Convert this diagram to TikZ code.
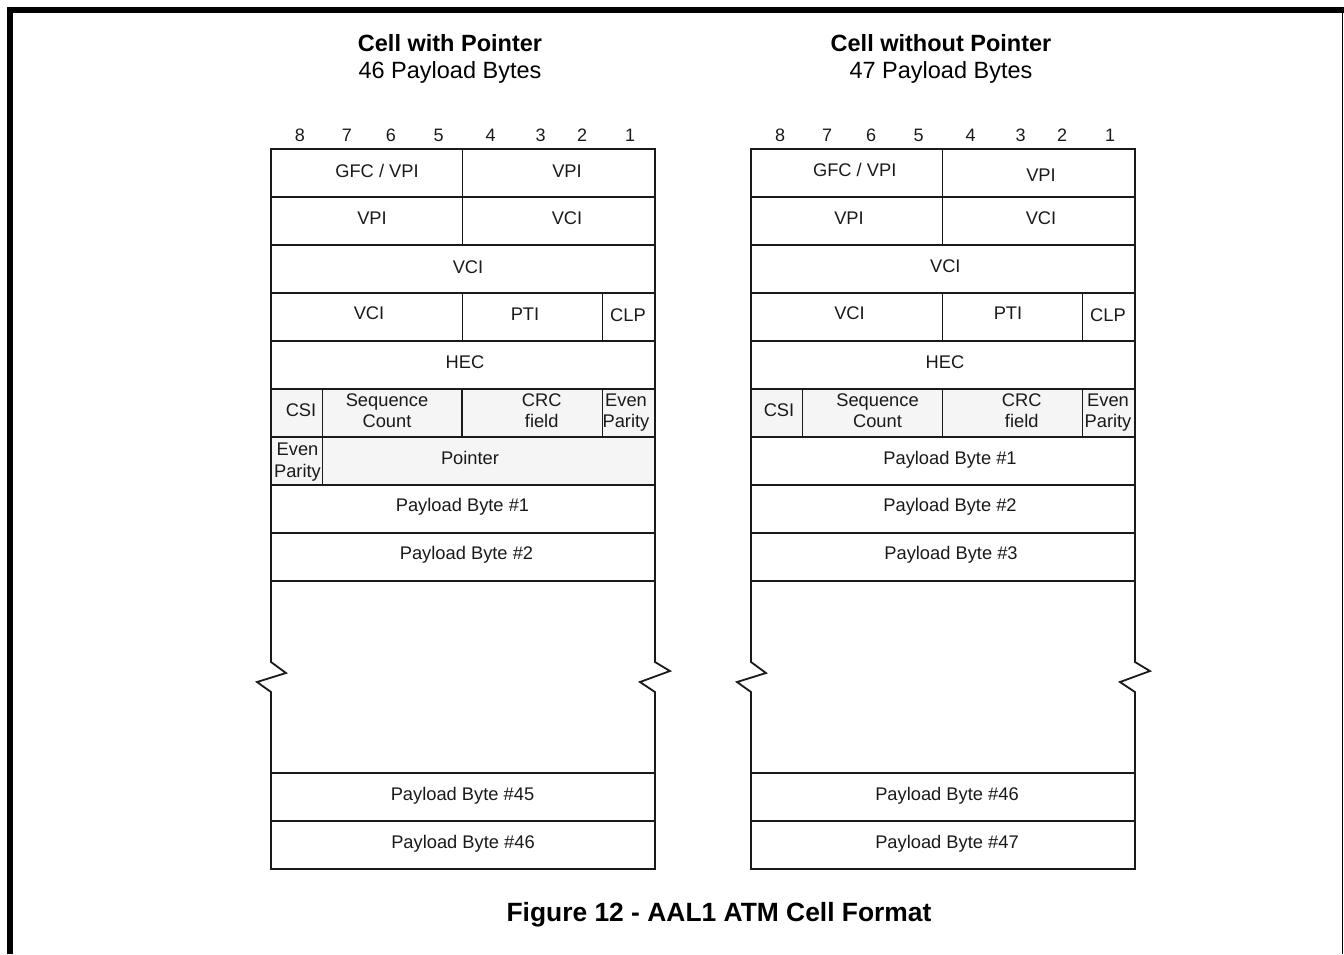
\documentclass[tikz,border=0pt]{standalone}
\usepackage{fontspec}
\setmainfont{Liberation Sans}
\definecolor{cellgray}{RGB}{245,245,245}
\definecolor{ink}{RGB}{26,26,26}
\begin{document}
\begin{tikzpicture}[x=1pt,y=-1pt,
  frame/.style={line width=1.8pt, draw=ink, line join=miter},
  lbl/.style={inner sep=0pt, font=\fontsize{18.3}{21.5}\selectfont, text=ink},
  lbltwo/.style={lbl, align=center},
  bitnum/.style={inner sep=0pt, font=\fontsize{18}{20}\selectfont, text=ink},
  head/.style={inner sep=0pt, font=\fontsize{23.5}{26}\selectfont\bfseries},
  subhead/.style={inner sep=0pt, font=\fontsize{23.5}{26}\selectfont},
  figcap/.style={inner sep=0pt, font=\fontsize{26.4}{30}\selectfont\bfseries}]
\useasboundingbox (0,0) rectangle (1344,954);
\fill[white] (0,0) rectangle (1344,954);
% page frame
\fill[black] (7,7) rectangle (1344,13);
\fill[black] (7,7) rectangle (13,954);
\draw[line width=1.5pt] (1342.5,13) -- (1342.5,954);

% ---------------- headings ----------------
\node[head]    (hL)  at (450,43) {Cell with Pointer};
\node[subhead] (shL) at (450,72) {46 Payload Bytes};
\node[head]    (hR)  at (941,43) {Cell without Pointer};
\node[subhead] (shR) at (941,72) {47 Payload Bytes};

% ---------------- bit numbers ----------------
\foreach \b/\x in {8/300,7/347,6/391,5/438.5,4/490.5,3/540.5,2/582,1/630}{
  \node[bitnum] (bL\b) at (\x,135) {\b};
  \node[bitnum] (bR\b) at (\x+480,135) {\b};
}

% ================= LEFT CELL =================
\fill[cellgray] (271,389) rectangle (655,485);
\draw[frame] (271,581) -- (271,149) -- (655,149) -- (655,581);
\foreach \y in {197,245,293,341,389,437,485,533,581}
  \draw[frame] (271,\y) -- (655,\y);
\draw[frame] (462.5,149) -- (462.5,245);
\draw[frame] (462.5,293) -- (462.5,341);
\draw[frame] (602.5,293) -- (602.5,341);
\draw[frame] (322.5,389) -- (322.5,485);
\draw[frame] (462,389) -- (462,437);
\draw[frame] (602.5,389) -- (602.5,437);
\draw[frame] (271,581) -- (271,662) -- (286,673) -- (257,682) -- (271,692) -- (271,773);
\draw[frame] (655,581) -- (655,662) -- (670,671) -- (640,682) -- (655,692) -- (655,773);
\draw[frame] (271,773) rectangle (655,869);
\draw[frame] (271,821) -- (655,821);

\node[lbl] (L1a) at (377,171) {GFC / VPI};
\node[lbl] (L1b) at (567,171) {VPI};
\node[lbl] (L2a) at (372,218.5) {VPI};
\node[lbl] (L2b) at (567,218.5) {VCI};
\node[lbl] (L3)  at (468,267) {VCI};
\node[lbl] (L4a) at (369,313.5) {VCI};
\node[lbl] (L4b) at (525,314) {PTI};
\node[lbl] (L4c) at (628,315) {CLP};
\node[lbl] (L5)  at (465,362) {HEC};
\node[lbl] (L6a) at (301,410) {CSI};
\node[lbltwo] (L6b) at (387,410.5) {Sequence\\Count};
\node[lbltwo] (L6c) at (541.7,410.5) {CRC\\field};
\node[lbltwo] (L6d) at (626,412.4) {Even\\Parity};
\node[lbltwo] (L7a) at (297.5,462) {Even\\Parity};
\node[lbl] (L7b) at (470,458) {Pointer};
\node[lbl] (L8)  at (462.5,507) {Payload Byte \#1};
\node[lbl] (L9)  at (466.5,555) {Payload Byte \#2};
\node[lbl] (L45) at (462.5,796) {Payload Byte \#45};
\node[lbl] (L46) at (463,843.5) {Payload Byte \#46};

% ================= RIGHT CELL =================
\fill[cellgray] (751,389) rectangle (1135,437);
\draw[frame] (751,581) -- (751,149) -- (1135,149) -- (1135,581);
\foreach \y in {197,245,293,341,389,437,485,533,581}
  \draw[frame] (751,\y) -- (1135,\y);
\draw[frame] (942.5,149) -- (942.5,245);
\draw[frame] (942.5,293) -- (942.5,341);
\draw[frame] (1082.5,293) -- (1082.5,341);
\draw[frame] (802.5,389) -- (802.5,437);
\draw[frame] (942.5,389) -- (942.5,437);
\draw[frame] (1082.5,389) -- (1082.5,437);
\draw[frame] (751,581) -- (751,662) -- (766,673) -- (737,682) -- (751,692) -- (751,773);
\draw[frame] (1135,581) -- (1135,662) -- (1150,671) -- (1120,682) -- (1135,692) -- (1135,773);
\draw[frame] (751,773) rectangle (1135,869);
\draw[frame] (751,821) -- (1135,821);

\node[lbl] (R1a) at (854.7,170) {GFC / VPI};
\node[lbl] (R1b) at (1041,175) {VPI};
\node[lbl] (R2a) at (849,218.5) {VPI};
\node[lbl] (R2b) at (1041,218.5) {VCI};
\node[lbl] (R3)  at (945.3,266.5) {VCI};
\node[lbl] (R4a) at (849.5,313.5) {VCI};
\node[lbl] (R4b) at (1008,313.5) {PTI};
\node[lbl] (R4c) at (1108,315) {CLP};
\node[lbl] (R5)  at (945,362) {HEC};
\node[lbl] (R6a) at (779,410) {CSI};
\node[lbltwo] (R6b) at (877.5,410.5) {Sequence\\Count};
\node[lbltwo] (R6c) at (1021.7,410.5) {CRC\\field};
\node[lbltwo] (R6d) at (1108,412.4) {Even\\Parity};
\node[lbl] (R7)  at (950,459.5) {Payload Byte \#1};
\node[lbl] (R8)  at (950,507) {Payload Byte \#2};
\node[lbl] (R9)  at (951,555) {Payload Byte \#3};
\node[lbl] (R46) at (947,796) {Payload Byte \#46};
\node[lbl] (R47) at (947,843.5) {Payload Byte \#47};

% ---------------- caption ----------------
\node[figcap] (cap) at (719,915) {Figure 12 - AAL1 ATM Cell Format};
\end{tikzpicture}
\end{document}
